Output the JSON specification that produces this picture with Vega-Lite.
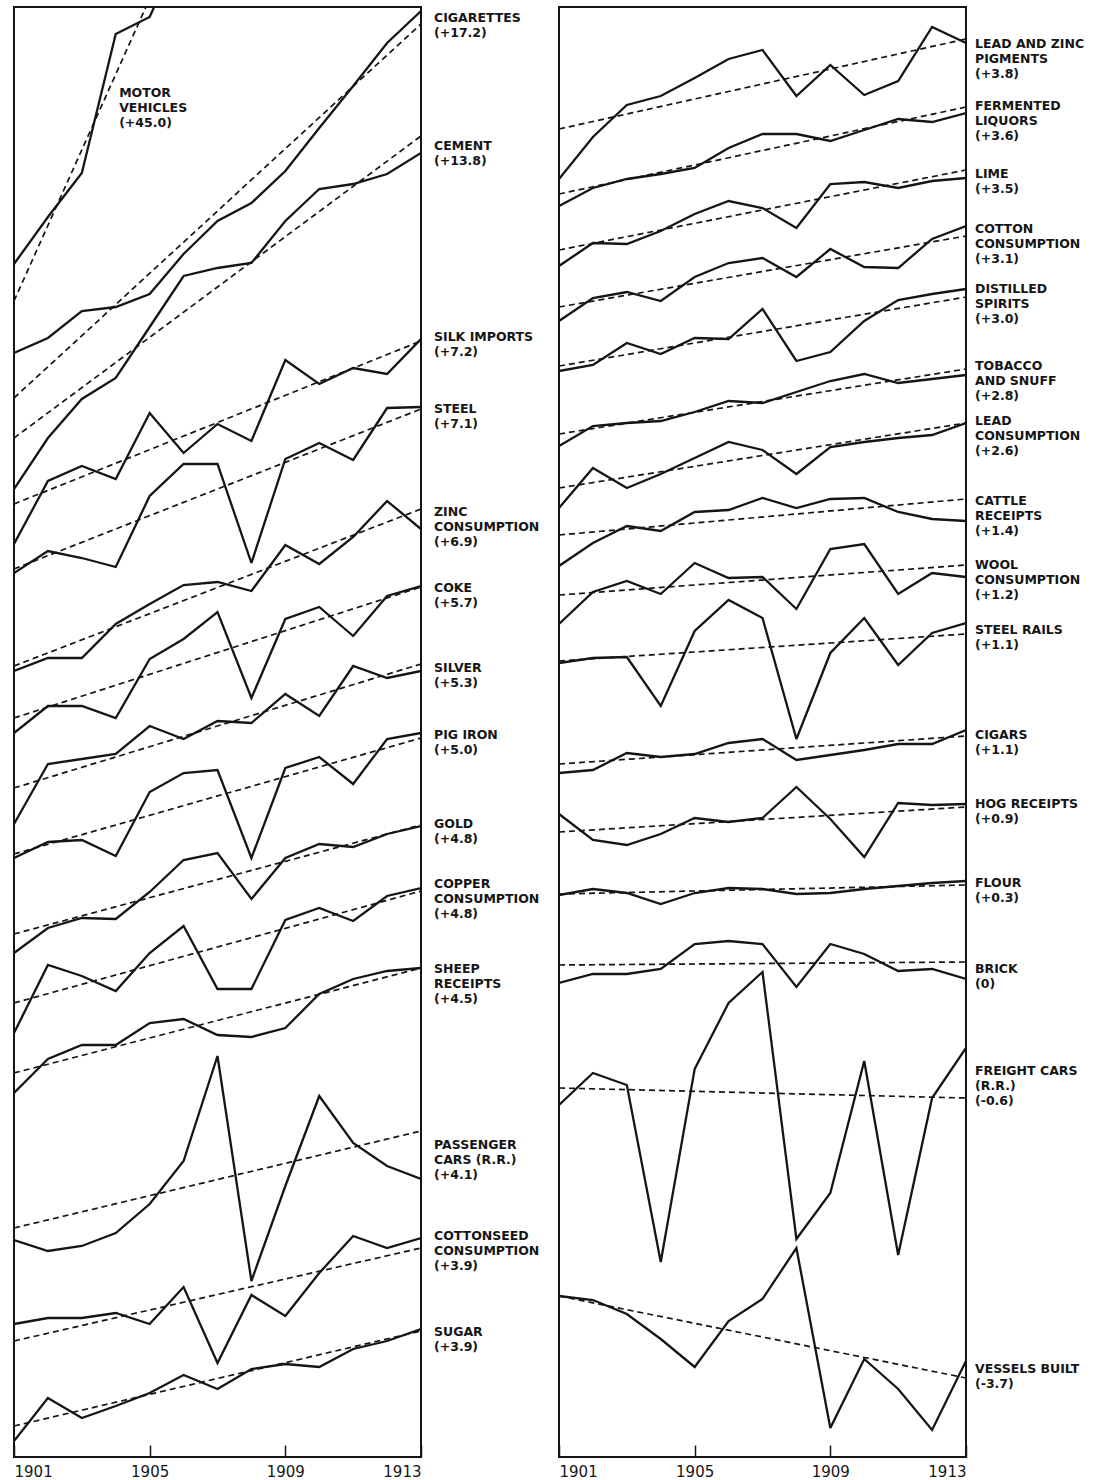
{
"$schema":"https://vega.github.io/schema/vega-lite/v6.json",
"background":"white",
"padding":{"left":12,"top":6,"right":0,"bottom":0},
"bounds":"flush",
"spacing":138,
"config":{"view":{"stroke":"#151515","strokeWidth":2}},
"datasets":{
"s":[
{"p":"L","s":"Motor vehicles","x":1901,"v":1193},{"p":"L","s":"Motor vehicles","x":1902,"v":1240},{"p":"L","s":"Motor vehicles","x":1903,"v":1284},{"p":"L","s":"Motor vehicles","x":1904,"v":1423},{"p":"L","s":"Motor vehicles","x":1905,"v":1440},{"p":"L","s":"Motor vehicles","x":1906,"v":1516},
{"p":"L","s":"Cigarettes","x":1901,"v":1104},{"p":"L","s":"Cigarettes","x":1902,"v":1119},{"p":"L","s":"Cigarettes","x":1903,"v":1146},{"p":"L","s":"Cigarettes","x":1904,"v":1150},{"p":"L","s":"Cigarettes","x":1905,"v":1163},{"p":"L","s":"Cigarettes","x":1906,"v":1203},{"p":"L","s":"Cigarettes","x":1907,"v":1236},{"p":"L","s":"Cigarettes","x":1908,"v":1254},{"p":"L","s":"Cigarettes","x":1909,"v":1286},{"p":"L","s":"Cigarettes","x":1910,"v":1329},{"p":"L","s":"Cigarettes","x":1911,"v":1371},{"p":"L","s":"Cigarettes","x":1912,"v":1414},{"p":"L","s":"Cigarettes","x":1913,"v":1446},
{"p":"L","s":"Cement","x":1901,"v":968},{"p":"L","s":"Cement","x":1902,"v":1019},{"p":"L","s":"Cement","x":1903,"v":1058},{"p":"L","s":"Cement","x":1904,"v":1079},{"p":"L","s":"Cement","x":1905,"v":1130},{"p":"L","s":"Cement","x":1906,"v":1181},{"p":"L","s":"Cement","x":1907,"v":1189},{"p":"L","s":"Cement","x":1908,"v":1194},{"p":"L","s":"Cement","x":1909,"v":1236},{"p":"L","s":"Cement","x":1910,"v":1268},{"p":"L","s":"Cement","x":1911,"v":1273},{"p":"L","s":"Cement","x":1912,"v":1283},{"p":"L","s":"Cement","x":1913,"v":1304},
{"p":"L","s":"Silk imports","x":1901,"v":913},{"p":"L","s":"Silk imports","x":1902,"v":976},{"p":"L","s":"Silk imports","x":1903,"v":991},{"p":"L","s":"Silk imports","x":1904,"v":978},{"p":"L","s":"Silk imports","x":1905,"v":1044},{"p":"L","s":"Silk imports","x":1906,"v":1004},{"p":"L","s":"Silk imports","x":1907,"v":1033},{"p":"L","s":"Silk imports","x":1908,"v":1016},{"p":"L","s":"Silk imports","x":1909,"v":1097},{"p":"L","s":"Silk imports","x":1910,"v":1073},{"p":"L","s":"Silk imports","x":1911,"v":1089},{"p":"L","s":"Silk imports","x":1912,"v":1083},{"p":"L","s":"Silk imports","x":1913,"v":1118},
{"p":"L","s":"Steel","x":1901,"v":884},{"p":"L","s":"Steel","x":1902,"v":906},{"p":"L","s":"Steel","x":1903,"v":899},{"p":"L","s":"Steel","x":1904,"v":890},{"p":"L","s":"Steel","x":1905,"v":961},{"p":"L","s":"Steel","x":1906,"v":993},{"p":"L","s":"Steel","x":1907,"v":993},{"p":"L","s":"Steel","x":1908,"v":894},{"p":"L","s":"Steel","x":1909,"v":998},{"p":"L","s":"Steel","x":1910,"v":1014},{"p":"L","s":"Steel","x":1911,"v":997},{"p":"L","s":"Steel","x":1912,"v":1049},{"p":"L","s":"Steel","x":1913,"v":1050},
{"p":"L","s":"Zinc consumption","x":1901,"v":786},{"p":"L","s":"Zinc consumption","x":1902,"v":799},{"p":"L","s":"Zinc consumption","x":1903,"v":799},{"p":"L","s":"Zinc consumption","x":1904,"v":833},{"p":"L","s":"Zinc consumption","x":1905,"v":853},{"p":"L","s":"Zinc consumption","x":1906,"v":872},{"p":"L","s":"Zinc consumption","x":1907,"v":875},{"p":"L","s":"Zinc consumption","x":1908,"v":866},{"p":"L","s":"Zinc consumption","x":1909,"v":912},{"p":"L","s":"Zinc consumption","x":1910,"v":893},{"p":"L","s":"Zinc consumption","x":1911,"v":920},{"p":"L","s":"Zinc consumption","x":1912,"v":956},{"p":"L","s":"Zinc consumption","x":1913,"v":928},
{"p":"L","s":"Coke","x":1901,"v":724},{"p":"L","s":"Coke","x":1902,"v":751},{"p":"L","s":"Coke","x":1903,"v":751},{"p":"L","s":"Coke","x":1904,"v":739},{"p":"L","s":"Coke","x":1905,"v":798},{"p":"L","s":"Coke","x":1906,"v":818},{"p":"L","s":"Coke","x":1907,"v":845},{"p":"L","s":"Coke","x":1908,"v":759},{"p":"L","s":"Coke","x":1909,"v":838},{"p":"L","s":"Coke","x":1910,"v":850},{"p":"L","s":"Coke","x":1911,"v":821},{"p":"L","s":"Coke","x":1912,"v":861},{"p":"L","s":"Coke","x":1913,"v":871},
{"p":"L","s":"Silver","x":1901,"v":633},{"p":"L","s":"Silver","x":1902,"v":693},{"p":"L","s":"Silver","x":1903,"v":698},{"p":"L","s":"Silver","x":1904,"v":703},{"p":"L","s":"Silver","x":1905,"v":731},{"p":"L","s":"Silver","x":1906,"v":718},{"p":"L","s":"Silver","x":1907,"v":736},{"p":"L","s":"Silver","x":1908,"v":734},{"p":"L","s":"Silver","x":1909,"v":763},{"p":"L","s":"Silver","x":1910,"v":741},{"p":"L","s":"Silver","x":1911,"v":791},{"p":"L","s":"Silver","x":1912,"v":779},{"p":"L","s":"Silver","x":1913,"v":786},
{"p":"L","s":"Pig iron","x":1901,"v":599},{"p":"L","s":"Pig iron","x":1902,"v":615},{"p":"L","s":"Pig iron","x":1903,"v":617},{"p":"L","s":"Pig iron","x":1904,"v":601},{"p":"L","s":"Pig iron","x":1905,"v":665},{"p":"L","s":"Pig iron","x":1906,"v":684},{"p":"L","s":"Pig iron","x":1907,"v":687},{"p":"L","s":"Pig iron","x":1908,"v":599},{"p":"L","s":"Pig iron","x":1909,"v":689},{"p":"L","s":"Pig iron","x":1910,"v":700},{"p":"L","s":"Pig iron","x":1911,"v":673},{"p":"L","s":"Pig iron","x":1912,"v":718},{"p":"L","s":"Pig iron","x":1913,"v":724},
{"p":"L","s":"Gold","x":1901,"v":504},{"p":"L","s":"Gold","x":1902,"v":529},{"p":"L","s":"Gold","x":1903,"v":539},{"p":"L","s":"Gold","x":1904,"v":538},{"p":"L","s":"Gold","x":1905,"v":565},{"p":"L","s":"Gold","x":1906,"v":597},{"p":"L","s":"Gold","x":1907,"v":604},{"p":"L","s":"Gold","x":1908,"v":558},{"p":"L","s":"Gold","x":1909,"v":599},{"p":"L","s":"Gold","x":1910,"v":613},{"p":"L","s":"Gold","x":1911,"v":610},{"p":"L","s":"Gold","x":1912,"v":623},{"p":"L","s":"Gold","x":1913,"v":631},
{"p":"L","s":"Copper consumption","x":1901,"v":424},{"p":"L","s":"Copper consumption","x":1902,"v":492},{"p":"L","s":"Copper consumption","x":1903,"v":481},{"p":"L","s":"Copper consumption","x":1904,"v":466},{"p":"L","s":"Copper consumption","x":1905,"v":504},{"p":"L","s":"Copper consumption","x":1906,"v":531},{"p":"L","s":"Copper consumption","x":1907,"v":468},{"p":"L","s":"Copper consumption","x":1908,"v":468},{"p":"L","s":"Copper consumption","x":1909,"v":537},{"p":"L","s":"Copper consumption","x":1910,"v":549},{"p":"L","s":"Copper consumption","x":1911,"v":536},{"p":"L","s":"Copper consumption","x":1912,"v":561},{"p":"L","s":"Copper consumption","x":1913,"v":569},
{"p":"L","s":"Sheep receipts","x":1901,"v":364},{"p":"L","s":"Sheep receipts","x":1902,"v":398},{"p":"L","s":"Sheep receipts","x":1903,"v":412},{"p":"L","s":"Sheep receipts","x":1904,"v":412},{"p":"L","s":"Sheep receipts","x":1905,"v":434},{"p":"L","s":"Sheep receipts","x":1906,"v":438},{"p":"L","s":"Sheep receipts","x":1907,"v":422},{"p":"L","s":"Sheep receipts","x":1908,"v":420},{"p":"L","s":"Sheep receipts","x":1909,"v":429},{"p":"L","s":"Sheep receipts","x":1910,"v":463},{"p":"L","s":"Sheep receipts","x":1911,"v":478},{"p":"L","s":"Sheep receipts","x":1912,"v":486},{"p":"L","s":"Sheep receipts","x":1913,"v":489},
{"p":"L","s":"Passenger cars","x":1901,"v":217},{"p":"L","s":"Passenger cars","x":1902,"v":206},{"p":"L","s":"Passenger cars","x":1903,"v":211},{"p":"L","s":"Passenger cars","x":1904,"v":224},{"p":"L","s":"Passenger cars","x":1905,"v":253},{"p":"L","s":"Passenger cars","x":1906,"v":296},{"p":"L","s":"Passenger cars","x":1907,"v":401},{"p":"L","s":"Passenger cars","x":1908,"v":176},{"p":"L","s":"Passenger cars","x":1909,"v":271},{"p":"L","s":"Passenger cars","x":1910,"v":361},{"p":"L","s":"Passenger cars","x":1911,"v":314},{"p":"L","s":"Passenger cars","x":1912,"v":291},{"p":"L","s":"Passenger cars","x":1913,"v":278},
{"p":"L","s":"Cottonseed consumption","x":1901,"v":133},{"p":"L","s":"Cottonseed consumption","x":1902,"v":139},{"p":"L","s":"Cottonseed consumption","x":1903,"v":139},{"p":"L","s":"Cottonseed consumption","x":1904,"v":144},{"p":"L","s":"Cottonseed consumption","x":1905,"v":133},{"p":"L","s":"Cottonseed consumption","x":1906,"v":170},{"p":"L","s":"Cottonseed consumption","x":1907,"v":94},{"p":"L","s":"Cottonseed consumption","x":1908,"v":162},{"p":"L","s":"Cottonseed consumption","x":1909,"v":141},{"p":"L","s":"Cottonseed consumption","x":1910,"v":184},{"p":"L","s":"Cottonseed consumption","x":1911,"v":221},{"p":"L","s":"Cottonseed consumption","x":1912,"v":209},{"p":"L","s":"Cottonseed consumption","x":1913,"v":219},
{"p":"L","s":"Sugar","x":1901,"v":16},{"p":"L","s":"Sugar","x":1902,"v":59},{"p":"L","s":"Sugar","x":1903,"v":39},{"p":"L","s":"Sugar","x":1904,"v":51},{"p":"L","s":"Sugar","x":1905,"v":64},{"p":"L","s":"Sugar","x":1906,"v":82},{"p":"L","s":"Sugar","x":1907,"v":68},{"p":"L","s":"Sugar","x":1908,"v":88},{"p":"L","s":"Sugar","x":1909,"v":93},{"p":"L","s":"Sugar","x":1910,"v":90},{"p":"L","s":"Sugar","x":1911,"v":108},{"p":"L","s":"Sugar","x":1912,"v":116},{"p":"L","s":"Sugar","x":1913,"v":128},
{"p":"R","s":"Lead and zinc pigments","x":1901,"v":1278},{"p":"R","s":"Lead and zinc pigments","x":1902,"v":1320},{"p":"R","s":"Lead and zinc pigments","x":1903,"v":1352},{"p":"R","s":"Lead and zinc pigments","x":1904,"v":1361},{"p":"R","s":"Lead and zinc pigments","x":1905,"v":1379},{"p":"R","s":"Lead and zinc pigments","x":1906,"v":1398},{"p":"R","s":"Lead and zinc pigments","x":1907,"v":1407},{"p":"R","s":"Lead and zinc pigments","x":1908,"v":1361},{"p":"R","s":"Lead and zinc pigments","x":1909,"v":1392},{"p":"R","s":"Lead and zinc pigments","x":1910,"v":1362},{"p":"R","s":"Lead and zinc pigments","x":1911,"v":1376},{"p":"R","s":"Lead and zinc pigments","x":1912,"v":1430},{"p":"R","s":"Lead and zinc pigments","x":1913,"v":1414},
{"p":"R","s":"Fermented liquors","x":1901,"v":1251},{"p":"R","s":"Fermented liquors","x":1902,"v":1269},{"p":"R","s":"Fermented liquors","x":1903,"v":1278},{"p":"R","s":"Fermented liquors","x":1904,"v":1283},{"p":"R","s":"Fermented liquors","x":1905,"v":1289},{"p":"R","s":"Fermented liquors","x":1906,"v":1309},{"p":"R","s":"Fermented liquors","x":1907,"v":1323},{"p":"R","s":"Fermented liquors","x":1908,"v":1323},{"p":"R","s":"Fermented liquors","x":1909,"v":1316},{"p":"R","s":"Fermented liquors","x":1910,"v":1327},{"p":"R","s":"Fermented liquors","x":1911,"v":1338},{"p":"R","s":"Fermented liquors","x":1912,"v":1335},{"p":"R","s":"Fermented liquors","x":1913,"v":1344},
{"p":"R","s":"Lime","x":1901,"v":1191},{"p":"R","s":"Lime","x":1902,"v":1214},{"p":"R","s":"Lime","x":1903,"v":1213},{"p":"R","s":"Lime","x":1904,"v":1226},{"p":"R","s":"Lime","x":1905,"v":1243},{"p":"R","s":"Lime","x":1906,"v":1256},{"p":"R","s":"Lime","x":1907,"v":1249},{"p":"R","s":"Lime","x":1908,"v":1229},{"p":"R","s":"Lime","x":1909,"v":1273},{"p":"R","s":"Lime","x":1910,"v":1275},{"p":"R","s":"Lime","x":1911,"v":1269},{"p":"R","s":"Lime","x":1912,"v":1276},{"p":"R","s":"Lime","x":1913,"v":1279},
{"p":"R","s":"Cotton consumption","x":1901,"v":1136},{"p":"R","s":"Cotton consumption","x":1902,"v":1159},{"p":"R","s":"Cotton consumption","x":1903,"v":1165},{"p":"R","s":"Cotton consumption","x":1904,"v":1156},{"p":"R","s":"Cotton consumption","x":1905,"v":1180},{"p":"R","s":"Cotton consumption","x":1906,"v":1194},{"p":"R","s":"Cotton consumption","x":1907,"v":1199},{"p":"R","s":"Cotton consumption","x":1908,"v":1180},{"p":"R","s":"Cotton consumption","x":1909,"v":1208},{"p":"R","s":"Cotton consumption","x":1910,"v":1190},{"p":"R","s":"Cotton consumption","x":1911,"v":1189},{"p":"R","s":"Cotton consumption","x":1912,"v":1218},{"p":"R","s":"Cotton consumption","x":1913,"v":1231},
{"p":"R","s":"Distilled spirits","x":1901,"v":1086},{"p":"R","s":"Distilled spirits","x":1902,"v":1092},{"p":"R","s":"Distilled spirits","x":1903,"v":1114},{"p":"R","s":"Distilled spirits","x":1904,"v":1103},{"p":"R","s":"Distilled spirits","x":1905,"v":1119},{"p":"R","s":"Distilled spirits","x":1906,"v":1118},{"p":"R","s":"Distilled spirits","x":1907,"v":1148},{"p":"R","s":"Distilled spirits","x":1908,"v":1096},{"p":"R","s":"Distilled spirits","x":1909,"v":1105},{"p":"R","s":"Distilled spirits","x":1910,"v":1136},{"p":"R","s":"Distilled spirits","x":1911,"v":1157},{"p":"R","s":"Distilled spirits","x":1912,"v":1163},{"p":"R","s":"Distilled spirits","x":1913,"v":1168},
{"p":"R","s":"Tobacco and snuff","x":1901,"v":1011},{"p":"R","s":"Tobacco and snuff","x":1902,"v":1031},{"p":"R","s":"Tobacco and snuff","x":1903,"v":1034},{"p":"R","s":"Tobacco and snuff","x":1904,"v":1036},{"p":"R","s":"Tobacco and snuff","x":1905,"v":1045},{"p":"R","s":"Tobacco and snuff","x":1906,"v":1056},{"p":"R","s":"Tobacco and snuff","x":1907,"v":1054},{"p":"R","s":"Tobacco and snuff","x":1908,"v":1065},{"p":"R","s":"Tobacco and snuff","x":1909,"v":1076},{"p":"R","s":"Tobacco and snuff","x":1910,"v":1083},{"p":"R","s":"Tobacco and snuff","x":1911,"v":1074},{"p":"R","s":"Tobacco and snuff","x":1912,"v":1078},{"p":"R","s":"Tobacco and snuff","x":1913,"v":1082},
{"p":"R","s":"Lead consumption","x":1901,"v":949},{"p":"R","s":"Lead consumption","x":1902,"v":989},{"p":"R","s":"Lead consumption","x":1903,"v":969},{"p":"R","s":"Lead consumption","x":1904,"v":983},{"p":"R","s":"Lead consumption","x":1905,"v":999},{"p":"R","s":"Lead consumption","x":1906,"v":1015},{"p":"R","s":"Lead consumption","x":1907,"v":1007},{"p":"R","s":"Lead consumption","x":1908,"v":983},{"p":"R","s":"Lead consumption","x":1909,"v":1010},{"p":"R","s":"Lead consumption","x":1910,"v":1015},{"p":"R","s":"Lead consumption","x":1911,"v":1019},{"p":"R","s":"Lead consumption","x":1912,"v":1022},{"p":"R","s":"Lead consumption","x":1913,"v":1034},
{"p":"R","s":"Cattle receipts","x":1901,"v":891},{"p":"R","s":"Cattle receipts","x":1902,"v":914},{"p":"R","s":"Cattle receipts","x":1903,"v":931},{"p":"R","s":"Cattle receipts","x":1904,"v":926},{"p":"R","s":"Cattle receipts","x":1905,"v":945},{"p":"R","s":"Cattle receipts","x":1906,"v":947},{"p":"R","s":"Cattle receipts","x":1907,"v":959},{"p":"R","s":"Cattle receipts","x":1908,"v":949},{"p":"R","s":"Cattle receipts","x":1909,"v":958},{"p":"R","s":"Cattle receipts","x":1910,"v":959},{"p":"R","s":"Cattle receipts","x":1911,"v":945},{"p":"R","s":"Cattle receipts","x":1912,"v":938},{"p":"R","s":"Cattle receipts","x":1913,"v":936},
{"p":"R","s":"Wool consumption","x":1901,"v":833},{"p":"R","s":"Wool consumption","x":1902,"v":865},{"p":"R","s":"Wool consumption","x":1903,"v":876},{"p":"R","s":"Wool consumption","x":1904,"v":863},{"p":"R","s":"Wool consumption","x":1905,"v":894},{"p":"R","s":"Wool consumption","x":1906,"v":879},{"p":"R","s":"Wool consumption","x":1907,"v":880},{"p":"R","s":"Wool consumption","x":1908,"v":848},{"p":"R","s":"Wool consumption","x":1909,"v":908},{"p":"R","s":"Wool consumption","x":1910,"v":913},{"p":"R","s":"Wool consumption","x":1911,"v":863},{"p":"R","s":"Wool consumption","x":1912,"v":884},{"p":"R","s":"Wool consumption","x":1913,"v":880},
{"p":"R","s":"Steel rails","x":1901,"v":794},{"p":"R","s":"Steel rails","x":1902,"v":799},{"p":"R","s":"Steel rails","x":1903,"v":800},{"p":"R","s":"Steel rails","x":1904,"v":751},{"p":"R","s":"Steel rails","x":1905,"v":826},{"p":"R","s":"Steel rails","x":1906,"v":857},{"p":"R","s":"Steel rails","x":1907,"v":839},{"p":"R","s":"Steel rails","x":1908,"v":718},{"p":"R","s":"Steel rails","x":1909,"v":804},{"p":"R","s":"Steel rails","x":1910,"v":839},{"p":"R","s":"Steel rails","x":1911,"v":792},{"p":"R","s":"Steel rails","x":1912,"v":824},{"p":"R","s":"Steel rails","x":1913,"v":834},
{"p":"R","s":"Cigars","x":1901,"v":684},{"p":"R","s":"Cigars","x":1902,"v":687},{"p":"R","s":"Cigars","x":1903,"v":704},{"p":"R","s":"Cigars","x":1904,"v":700},{"p":"R","s":"Cigars","x":1905,"v":703},{"p":"R","s":"Cigars","x":1906,"v":714},{"p":"R","s":"Cigars","x":1907,"v":718},{"p":"R","s":"Cigars","x":1908,"v":697},{"p":"R","s":"Cigars","x":1909,"v":702},{"p":"R","s":"Cigars","x":1910,"v":707},{"p":"R","s":"Cigars","x":1911,"v":713},{"p":"R","s":"Cigars","x":1912,"v":713},{"p":"R","s":"Cigars","x":1913,"v":727},
{"p":"R","s":"Hog receipts","x":1901,"v":643},{"p":"R","s":"Hog receipts","x":1902,"v":617},{"p":"R","s":"Hog receipts","x":1903,"v":612},{"p":"R","s":"Hog receipts","x":1904,"v":623},{"p":"R","s":"Hog receipts","x":1905,"v":639},{"p":"R","s":"Hog receipts","x":1906,"v":635},{"p":"R","s":"Hog receipts","x":1907,"v":639},{"p":"R","s":"Hog receipts","x":1908,"v":670},{"p":"R","s":"Hog receipts","x":1909,"v":638},{"p":"R","s":"Hog receipts","x":1910,"v":600},{"p":"R","s":"Hog receipts","x":1911,"v":654},{"p":"R","s":"Hog receipts","x":1912,"v":652},{"p":"R","s":"Hog receipts","x":1913,"v":653},
{"p":"R","s":"Flour","x":1901,"v":562},{"p":"R","s":"Flour","x":1902,"v":568},{"p":"R","s":"Flour","x":1903,"v":564},{"p":"R","s":"Flour","x":1904,"v":553},{"p":"R","s":"Flour","x":1905,"v":564},{"p":"R","s":"Flour","x":1906,"v":569},{"p":"R","s":"Flour","x":1907,"v":568},{"p":"R","s":"Flour","x":1908,"v":563},{"p":"R","s":"Flour","x":1909,"v":564},{"p":"R","s":"Flour","x":1910,"v":568},{"p":"R","s":"Flour","x":1911,"v":571},{"p":"R","s":"Flour","x":1912,"v":574},{"p":"R","s":"Flour","x":1913,"v":576},
{"p":"R","s":"Brick","x":1901,"v":474},{"p":"R","s":"Brick","x":1902,"v":483},{"p":"R","s":"Brick","x":1903,"v":483},{"p":"R","s":"Brick","x":1904,"v":488},{"p":"R","s":"Brick","x":1905,"v":513},{"p":"R","s":"Brick","x":1906,"v":516},{"p":"R","s":"Brick","x":1907,"v":513},{"p":"R","s":"Brick","x":1908,"v":470},{"p":"R","s":"Brick","x":1909,"v":513},{"p":"R","s":"Brick","x":1910,"v":503},{"p":"R","s":"Brick","x":1911,"v":486},{"p":"R","s":"Brick","x":1912,"v":488},{"p":"R","s":"Brick","x":1913,"v":478},
{"p":"R","s":"Freight cars","x":1901,"v":352},{"p":"R","s":"Freight cars","x":1902,"v":384},{"p":"R","s":"Freight cars","x":1903,"v":372},{"p":"R","s":"Freight cars","x":1904,"v":195},{"p":"R","s":"Freight cars","x":1905,"v":388},{"p":"R","s":"Freight cars","x":1906,"v":454},{"p":"R","s":"Freight cars","x":1907,"v":485},{"p":"R","s":"Freight cars","x":1908,"v":218},{"p":"R","s":"Freight cars","x":1909,"v":264},{"p":"R","s":"Freight cars","x":1910,"v":396},{"p":"R","s":"Freight cars","x":1911,"v":202},{"p":"R","s":"Freight cars","x":1912,"v":359},{"p":"R","s":"Freight cars","x":1913,"v":409},
{"p":"R","s":"Vessels built","x":1901,"v":161},{"p":"R","s":"Vessels built","x":1902,"v":157},{"p":"R","s":"Vessels built","x":1903,"v":143},{"p":"R","s":"Vessels built","x":1904,"v":118},{"p":"R","s":"Vessels built","x":1905,"v":90},{"p":"R","s":"Vessels built","x":1906,"v":136},{"p":"R","s":"Vessels built","x":1907,"v":158},{"p":"R","s":"Vessels built","x":1908,"v":209},{"p":"R","s":"Vessels built","x":1909,"v":29},{"p":"R","s":"Vessels built","x":1910,"v":98},{"p":"R","s":"Vessels built","x":1911,"v":68},{"p":"R","s":"Vessels built","x":1912,"v":27},{"p":"R","s":"Vessels built","x":1913,"v":96}
],
"t":[
{"p":"L","s":"Motor vehicles","x":1901,"v":1156},{"p":"L","s":"Motor vehicles","x":1913,"v":2063},
{"p":"L","s":"Cigarettes","x":1901,"v":1059},{"p":"L","s":"Cigarettes","x":1913,"v":1433},
{"p":"L","s":"Cement","x":1901,"v":1019},{"p":"L","s":"Cement","x":1913,"v":1321},
{"p":"L","s":"Silk imports","x":1901,"v":953},{"p":"L","s":"Silk imports","x":1913,"v":1116},
{"p":"L","s":"Steel","x":1901,"v":888},{"p":"L","s":"Steel","x":1913,"v":1048},
{"p":"L","s":"Zinc consumption","x":1901,"v":791},{"p":"L","s":"Zinc consumption","x":1913,"v":948},
{"p":"L","s":"Coke","x":1901,"v":739},{"p":"L","s":"Coke","x":1913,"v":870},
{"p":"L","s":"Silver","x":1901,"v":669},{"p":"L","s":"Silver","x":1913,"v":793},
{"p":"L","s":"Pig iron","x":1901,"v":603},{"p":"L","s":"Pig iron","x":1913,"v":719},
{"p":"L","s":"Gold","x":1901,"v":523},{"p":"L","s":"Gold","x":1913,"v":632},
{"p":"L","s":"Copper consumption","x":1901,"v":454},{"p":"L","s":"Copper consumption","x":1913,"v":566},
{"p":"L","s":"Sheep receipts","x":1901,"v":384},{"p":"L","s":"Sheep receipts","x":1913,"v":489},
{"p":"L","s":"Passenger cars","x":1901,"v":229},{"p":"L","s":"Passenger cars","x":1913,"v":326},
{"p":"L","s":"Cottonseed consumption","x":1901,"v":116},{"p":"L","s":"Cottonseed consumption","x":1913,"v":209},
{"p":"L","s":"Sugar","x":1901,"v":31},{"p":"L","s":"Sugar","x":1913,"v":126},
{"p":"R","s":"Lead and zinc pigments","x":1901,"v":1328},{"p":"R","s":"Lead and zinc pigments","x":1913,"v":1418},
{"p":"R","s":"Fermented liquors","x":1901,"v":1263},{"p":"R","s":"Fermented liquors","x":1913,"v":1350},
{"p":"R","s":"Lime","x":1901,"v":1207},{"p":"R","s":"Lime","x":1913,"v":1287},
{"p":"R","s":"Cotton consumption","x":1901,"v":1150},{"p":"R","s":"Cotton consumption","x":1913,"v":1221},
{"p":"R","s":"Distilled spirits","x":1901,"v":1091},{"p":"R","s":"Distilled spirits","x":1913,"v":1160},
{"p":"R","s":"Tobacco and snuff","x":1901,"v":1023},{"p":"R","s":"Tobacco and snuff","x":1913,"v":1088},
{"p":"R","s":"Lead consumption","x":1901,"v":969},{"p":"R","s":"Lead consumption","x":1913,"v":1034},
{"p":"R","s":"Cattle receipts","x":1901,"v":922},{"p":"R","s":"Cattle receipts","x":1913,"v":958},
{"p":"R","s":"Wool consumption","x":1901,"v":862},{"p":"R","s":"Wool consumption","x":1913,"v":892},
{"p":"R","s":"Steel rails","x":1901,"v":796},{"p":"R","s":"Steel rails","x":1913,"v":823},
{"p":"R","s":"Cigars","x":1901,"v":693},{"p":"R","s":"Cigars","x":1913,"v":721},
{"p":"R","s":"Hog receipts","x":1901,"v":625},{"p":"R","s":"Hog receipts","x":1913,"v":650},
{"p":"R","s":"Flour","x":1901,"v":563},{"p":"R","s":"Flour","x":1913,"v":572},
{"p":"R","s":"Brick","x":1901,"v":492},{"p":"R","s":"Brick","x":1913,"v":495},
{"p":"R","s":"Freight cars","x":1901,"v":369},{"p":"R","s":"Freight cars","x":1913,"v":359},
{"p":"R","s":"Vessels built","x":1901,"v":161},{"p":"R","s":"Vessels built","x":1913,"v":79}
],
"l":[
{"p":"M","t":"MOTOR\nVEHICLES\n(+45.0)","v":1370},
{"p":"L","t":"CIGARETTES\n(+17.2)","v":1445},
{"p":"L","t":"CEMENT\n(+13.8)","v":1317},
{"p":"L","t":"SILK IMPORTS\n(+7.2)","v":1126},
{"p":"L","t":"STEEL\n(+7.1)","v":1054},
{"p":"L","t":"ZINC\nCONSUMPTION\n(+6.9)","v":951},
{"p":"L","t":"COKE\n(+5.7)","v":875},
{"p":"L","t":"SILVER\n(+5.3)","v":795},
{"p":"L","t":"PIG IRON\n(+5.0)","v":728},
{"p":"L","t":"GOLD\n(+4.8)","v":639},
{"p":"L","t":"COPPER\nCONSUMPTION\n(+4.8)","v":579},
{"p":"L","t":"SHEEP\nRECEIPTS\n(+4.5)","v":494},
{"p":"L","t":"PASSENGER\nCARS (R.R.)\n(+4.1)","v":318},
{"p":"L","t":"COTTONSEED\nCONSUMPTION\n(+3.9)","v":227},
{"p":"L","t":"SUGAR\n(+3.9)","v":131},
{"p":"R","t":"LEAD AND ZINC\nPIGMENTS\n(+3.8)","v":1419},
{"p":"R","t":"FERMENTED\nLIQUORS\n(+3.6)","v":1357},
{"p":"R","t":"LIME\n(+3.5)","v":1289},
{"p":"R","t":"COTTON\nCONSUMPTION\n(+3.1)","v":1234},
{"p":"R","t":"DISTILLED\nSPIRITS\n(+3.0)","v":1174},
{"p":"R","t":"TOBACCO\nAND SNUFF\n(+2.8)","v":1097},
{"p":"R","t":"LEAD\nCONSUMPTION\n(+2.6)","v":1042},
{"p":"R","t":"CATTLE\nRECEIPTS\n(+1.4)","v":962},
{"p":"R","t":"WOOL\nCONSUMPTION\n(+1.2)","v":898},
{"p":"R","t":"STEEL RAILS\n(+1.1)","v":833},
{"p":"R","t":"CIGARS\n(+1.1)","v":728},
{"p":"R","t":"HOG RECEIPTS\n(+0.9)","v":659},
{"p":"R","t":"FLOUR\n(+0.3)","v":580},
{"p":"R","t":"BRICK\n(0)","v":494},
{"p":"R","t":"FREIGHT CARS\n(R.R.)\n(-0.6)","v":392},
{"p":"R","t":"VESSELS BUILT\n(-3.7)","v":94}
]
},
"hconcat":[
{"width":407,"height":1450,
"layer":[
{"data":{"name":"s"},"transform":[{"filter":"datum.p==='L'"}],
"mark":{"type":"line","clip":true,"color":"#151515","strokeWidth":2.3,"strokeJoin":"miter","strokeMiterLimit":3},
"encoding":{"x":{"field":"x","type":"quantitative","scale":{"domain":[1901,1913],"nice":false,"zero":false},"axis":{"values":[1901,1905,1909,1913],"format":"d","labelFlush":true,"domain":false,"grid":false,"tickSize":-12,"tickColor":"#151515","tickWidth":1.5,"labelFont":"DejaVu Sans","labelFontSize":15,"labelColor":"#151515","labelPadding":19,"title":null}},
"y":{"field":"v","type":"quantitative","scale":{"domain":[0,1450],"nice":false,"zero":false},"axis":null},
"detail":{"field":"s"}}},
{"data":{"name":"t"},"transform":[{"filter":"datum.p==='L'"}],
"mark":{"type":"line","clip":true,"color":"#151515","strokeWidth":1.7,"strokeDash":[6,4]},
"encoding":{"x":{"field":"x","type":"quantitative"},"y":{"field":"v","type":"quantitative"},"detail":{"field":"s"}}},
{"data":{"name":"l"},"transform":[{"filter":"datum.p==='L'"}],
"mark":{"type":"text","align":"left","baseline":"top","dx":13,"lineBreak":"\n","lineHeight":15,"font":"DejaVu Sans","fontSize":12.5,"fontWeight":"bold","color":"#151515"},
"encoding":{"x":{"datum":1913,"type":"quantitative"},"y":{"field":"v","type":"quantitative"},"text":{"field":"t"}}},
{"data":{"name":"l"},"transform":[{"filter":"datum.p==='M'"}],
"mark":{"type":"text","align":"left","baseline":"top","lineBreak":"\n","lineHeight":15,"font":"DejaVu Sans","fontSize":12.5,"fontWeight":"bold","color":"#151515"},
"encoding":{"x":{"datum":1904.1,"type":"quantitative"},"y":{"field":"v","type":"quantitative"},"text":{"field":"t"}}}
]},
{"width":407,"height":1450,
"layer":[
{"data":{"name":"s"},"transform":[{"filter":"datum.p==='R'"}],
"mark":{"type":"line","clip":true,"color":"#151515","strokeWidth":2.3,"strokeJoin":"miter","strokeMiterLimit":3},
"encoding":{"x":{"field":"x","type":"quantitative","scale":{"domain":[1901,1913],"nice":false,"zero":false},"axis":{"values":[1901,1905,1909,1913],"format":"d","labelFlush":true,"domain":false,"grid":false,"tickSize":-12,"tickColor":"#151515","tickWidth":1.5,"labelFont":"DejaVu Sans","labelFontSize":15,"labelColor":"#151515","labelPadding":19,"title":null}},
"y":{"field":"v","type":"quantitative","scale":{"domain":[0,1450],"nice":false,"zero":false},"axis":null},
"detail":{"field":"s"}}},
{"data":{"name":"t"},"transform":[{"filter":"datum.p==='R'"}],
"mark":{"type":"line","clip":true,"color":"#151515","strokeWidth":1.7,"strokeDash":[6,4]},
"encoding":{"x":{"field":"x","type":"quantitative"},"y":{"field":"v","type":"quantitative"},"detail":{"field":"s"}}},
{"data":{"name":"l"},"transform":[{"filter":"datum.p==='R'"}],
"mark":{"type":"text","align":"left","baseline":"top","dx":9,"lineBreak":"\n","lineHeight":15,"font":"DejaVu Sans","fontSize":12.5,"fontWeight":"bold","color":"#151515"},
"encoding":{"x":{"datum":1913,"type":"quantitative"},"y":{"field":"v","type":"quantitative"},"text":{"field":"t"}}}
]}
]
}
